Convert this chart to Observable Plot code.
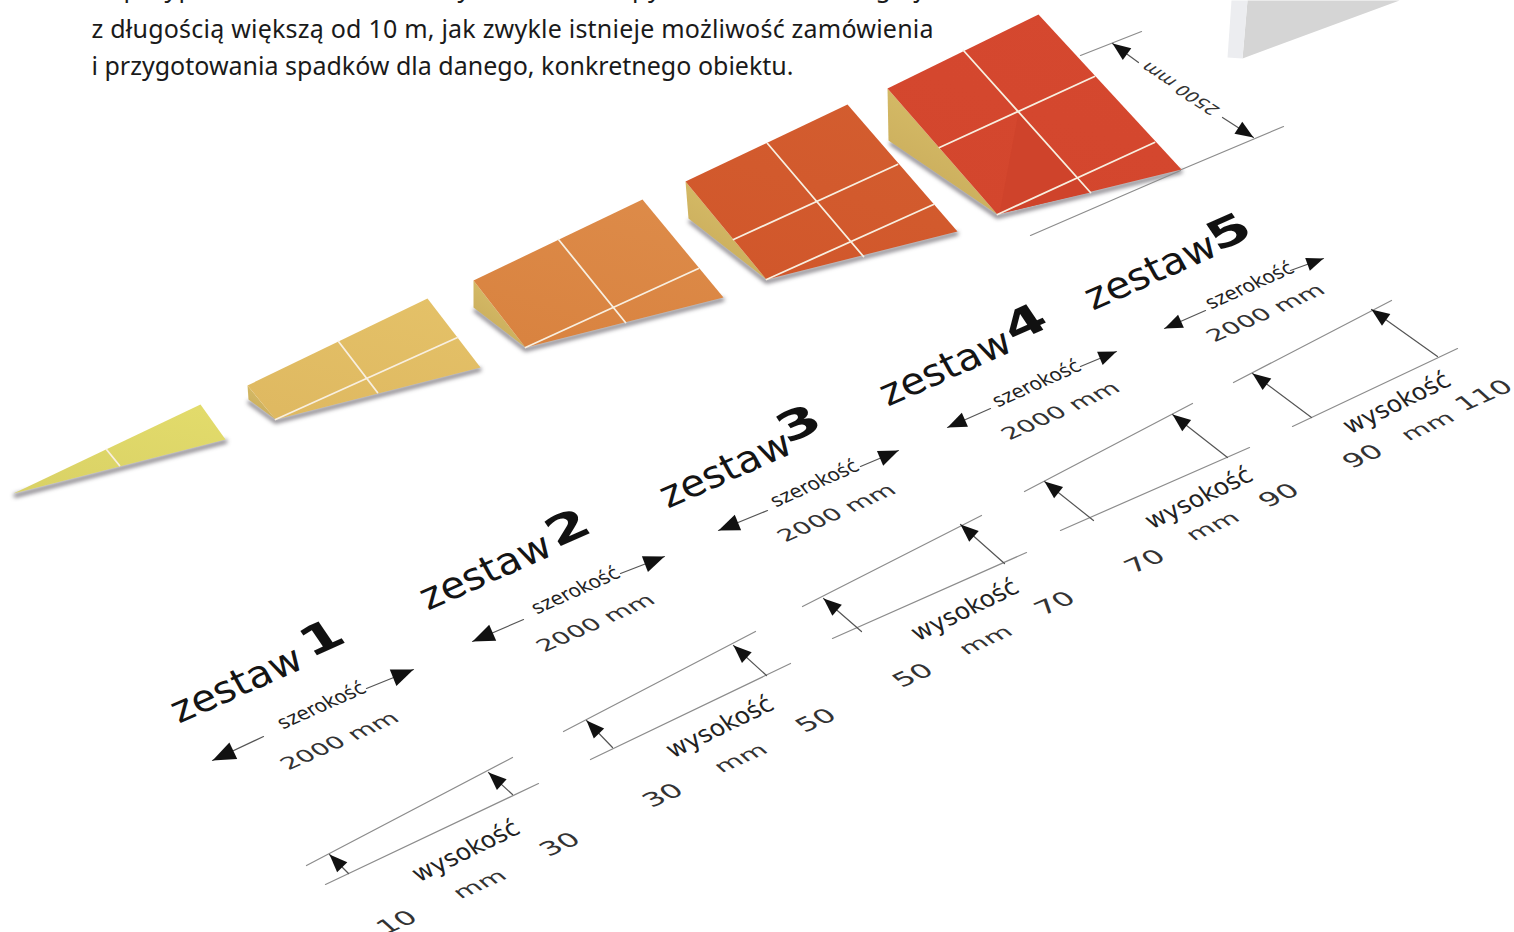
<!DOCTYPE html>
<html lang="pl"><head><meta charset="utf-8">
<script src="https://cdn.jsdelivr.net/npm/d3@7"></script>
<script src="https://cdn.jsdelivr.net/npm/@observablehq/plot@0.6"></script>
<style>html,body{margin:0;padding:0;background:#fff;overflow:hidden}svg{display:block}</style>
</head><body><div id="chart"></div>
<script>
// plan coordinates
const introLines = ["W przypadku konieczności wykonania rampy o szerokości długiej",
  "z długością większą od 10 m, jak zwykle istnieje możliwość zamówienia",
  "i przygotowania spadków dla danego, konkretnego obiektu."];
const introX = [91, 91, 91];
const introY = [-4, 37, 74];
const introLengths = [830, 842, 702];

const rampTops = [
  [[13,493],[200,404],[225,439]],
  [[247,385],[427,298],[480,367],[275,419]],
  [[473,280],[642,199],[723,297],[525,347]],
  [[685,181],[847,104],[957,231],[766,279]],
  [[887,88],[1038,14],[1181,169],[997,214]]
];
const rampSides = [
  null,
  [[247,385],[275,419],[248,399]],
  [[473,280],[525,347],[473,307]],
  [[685,181],[766,279],[688,218]],
  [[887,88],[997,214],[888,140]]
];
const rampShadows = [
  [[15,495],[225,441]],
  [[249,402],[275,421],[479,369]],
  [[475,310],[525,349],[722,299]],
  [[690,221],[766,281],[956,233]],
  [[891,143],[997,216],[1180,171]]
];
const seams = [
  [[106,449],[119,465]],
  [[338,341],[377,392]], [[275,419],[457,337]],
  [[558,239],[625,322]], [[525,347],[698,268]],
  [[767,143],[863,256]], [[733,239],[897,164]], [[766,279],[933,204]],
  [[963,50],[1090,192]], [[939,147],[1094,76]], [[997,214],[1154,142]]
];
const ramp5Fold = [[1018,112],[999,213],[1090,192]];
const wallFace = [[1247,0],[1242,58],[1399,0]];
const wallEdge = [[1231,0],[1227,57],[1242,58],[1247,0]];

const rules = [
  [[1080,55],[1141,31]], [[1181,169],[1283,126]], [[1030,235],[1180,170]],
  [[306,865],[512,757]], [[325,884],[538,783]],
  [[563,731],[755,631]], [[590,759],[790,663]],
  [[802,606],[981,515]], [[832,638],[1026,552]],
  [[1024,491],[1192,403]], [[1060,530],[1249,447]],
  [[1233,382],[1391,300]], [[1292,426],[1457,348]]
];
// tail, tip, head length
const arrows = [
  [[1138,62],[1112,43],18], [[1222,117],[1253,137],18],
  [[263,736],[212,760],23], [[366,688],[413,669],22],
  [[523,619],[472,641],22], [[620,573],[664,556],21],
  [[767,510],[718,530],21], [[860,466],[898,450],20],
  [[990,408],[947,427],19], [[1080,366],[1116,351],18],
  [[1205,310],[1164,328],18], [[1290,270],[1323,258],17],
  [[348,873],[329,854],18], [[512,794],[488,772],18],
  [[612,747],[586,720],18], [[766,675],[733,645],18],
  [[861,631],[823,598],18], [[1004,563],[960,524],18],
  [[1093,520],[1044,481],18], [[1227,457],[1172,414],18],
  [[1311,417],[1252,373],18], [[1437,356],[1371,309],18]
];

const setWords = ["zestaw","zestaw","zestaw","zestaw","zestaw"];
const setWordX = [242,491,731,951,1156];
const setWordY = [695,582,480,378,282];
const setDigits = ["1","2","3","4","5"];
const setDigitX = [329,575,806,1032,1236];
const setDigitY = [649,539,435,334,243];
const widthWordX = [325,579,818,1040,1253];
const widthWordY = [710,595,488,388,290];
const widthValX = [344,600,841,1065,1270];
const widthValY = [745,627,517,415,317];
const heightWordX = [470,724,969,1203,1401];
const heightWordY = [857,733,616,504,409];
const unitX = [484,745,990,1217,1432];
const unitY = [888,762,644,530,430];
const lowVals = ["10","30","50","70","90"];
const lowX = [402,668,918,1150,1368];
const lowY = [927,800,680,566,461];
const highVals = ["30","50","70","90","110"];
const highX = [565,821,1060,1284,1489];
const highY = [849,725,608,500,400];

const rampColors = [["#e2db6b","#dad266"],["#e4c168","#dfb961"],["#dd8b49","#d98340"],["#d35d2f","#d1572b"],["#d5482f","#d3462d"]];
const sideColors = ["#d9c06a","#c8aa5a"];

const X = d => d[0], Y = d => d[1];
const poly = (pts, fill, o = {}) => Plot.line(pts, {x: X, y: Y, fill, stroke: "none", curve: "linear-closed", ...o});
const seg = (pts, stroke, strokeWidth, o = {}) => Plot.line(pts, {x: X, y: Y, stroke, strokeWidth, ...o});
function head([t, p, len]) {
  const dx = p[0] - t[0], dy = p[1] - t[1], n = Math.hypot(dx, dy), ux = dx / n, uy = dy / n, w = len * 0.4;
  return [p, [p[0] - ux * len - uy * w, p[1] - uy * len + ux * w], [p[0] - ux * len + uy * w, p[1] - uy * len - ux * w]];
}
const labels = (name, text, xs, ys, o) => Plot.text(text, {x: (d, i) => xs[i], y: (d, i) => ys[i], text: d => d, textAnchor: "middle", lineAnchor: "bottom", fontFamily: "DejaVu Sans", fill: "#141414", ariaLabel: () => name, ...o});
const rep = v => [v, v, v, v, v];

const skews = {zestaw: 5, cyfra: 10, szer: 14, val: 24, wys: 10, unit: 24, num: 24, dim: -22};
const scaleXs = {zestaw: 1.05, cyfra: 1.3, szer: 1, val: 1.22, wys: 1, unit: 1.28, num: 1.22, dim: 1};
const scaleYs = {zestaw: 1, cyfra: 0.9, szer: 1, val: 0.88, wys: 1, unit: 0.85, num: 0.88, dim: 0.88};

const plot = Plot.plot({
  width: 1514, height: 932, margin: 0,
  x: {domain: [0, 1514], range: [0, 1514], axis: null},
  y: {domain: [0, 932], range: [0, 932], axis: null},
  marks: [
    poly(wallFace, "#d5d5d5"), poly(wallEdge, "#ecedf0"),
    rampShadows.map(s => seg(s, "#2b2530", 4, {strokeOpacity: 0.6, imageFilter: "blur(2px)", strokeLinejoin: "round"})),
    rules.map(r => seg(r, "#8c8c8c", 1.2)),
    rampSides.map(s => s && poly(s, "url(#side)")),
    rampTops.map((t, i) => poly(t, `url(#ramp${i})`)),
    poly(ramp5Fold, "#cf432b"),
    seams.map(s => seg(s, "#f8efe0", 1.8)),
    arrows.map(a => seg([a[0], a[1]], "#555", 1.2)),
    arrows.map(a => poly(head(a), "#111")),
    Plot.text(introLines, {x: (d, i) => introX[i], y: (d, i) => introY[i], text: d => d, textAnchor: "start", lineAnchor: "bottom", fontFamily: "Noto Sans", fontSize: 25, fill: "#1a1a1a", ariaLabel: () => "intro"}),
    labels("zestaw", setWords, setWordX, setWordY, {fontSize: 38, rotate: -24}),
    labels("cyfra", setDigits, setDigitX, setDigitY, {fontSize: 46, fontWeight: 900, rotate: -24, fill: "#111"}),
    labels("szer", rep("szerokość"), widthWordX, widthWordY, {fontSize: 19, rotate: -24, fill: "#222"}),
    labels("val", rep("2000 mm"), widthValX, widthValY, {fontSize: 21, rotate: -24, fill: "#333"}),
    labels("wys", rep("wysokość"), heightWordX, heightWordY, {fontSize: 24, rotate: -26, fill: "#222"}),
    labels("unit", rep("mm"), unitX, unitY, {fontSize: 21, rotate: -24, fill: "#333"}),
    labels("num", lowVals, lowX, lowY, {fontSize: 24, rotate: -24, fill: "#333"}),
    labels("num", highVals, highX, highY, {fontSize: 24, rotate: -24, fill: "#333"}),
    labels("dim", ["2500 mm"], [1180], [88], {fontSize: 18, rotate: 213, fill: "#333", lineAnchor: "middle"})
  ]
});
const svg = d3.select(plot);
const defs = svg.insert("defs", ":first-child");
const grad = (id, [a, b]) => {
  const g = defs.append("linearGradient").attr("id", id).attr("x1", 0.8).attr("y1", 0).attr("x2", 0.3).attr("y2", 1);
  g.append("stop").attr("offset", 0).attr("stop-color", a);
  g.append("stop").attr("offset", 1).attr("stop-color", b);
};
rampColors.forEach((c, i) => grad(`ramp${i}`, c));
grad("side", sideColors);
svg.selectAll('text[aria-label="intro"]').attr("textLength", (d, i) => introLengths[i]).attr("aria-label", null);
Object.keys(skews).forEach(k => {
  svg.selectAll(`text[aria-label="${k}"]`).attr("transform", function () {
    return (this.getAttribute("transform") || "") + ` skewX(${skews[k]}) scale(${scaleXs[k]},${scaleYs[k]})`;
  }).attr("aria-label", null);
});
document.getElementById("chart").append(plot);
</script></body></html>
